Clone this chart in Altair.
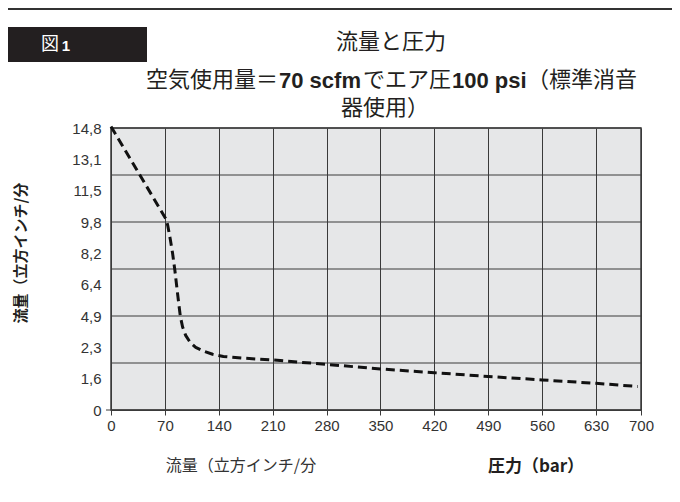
import altair as alt
import pandas as pd

# ---- data ----
pressure = [0, 36, 72, 74, 77, 80, 83, 87, 90, 93, 97, 103, 110, 120, 132, 146, 175, 208, 278, 350, 420, 490, 560, 630, 695]
# flow expressed in axis-slot units (axis labels are spaced evenly, not proportionally)
flow_slot = [9.05, 7.56, 6.07, 5.85, 5.45, 5.0, 4.45, 3.6, 3.0, 2.65, 2.38, 2.15, 2.0, 1.88, 1.78, 1.71, 1.65, 1.60, 1.46, 1.31, 1.19, 1.07, 0.96, 0.85, 0.75]
y_tick_labels = ["0", "1,6", "2,3", "4,9", "6,4", "8,2", "9,8", "11,5", "13,1", "14,8"]
x_ticks = [0, 70, 140, 210, 280, 350, 420, 490, 560, 630, 700]
h_grid = [0, 1.5, 3, 4.5, 6, 7.5, 9]

title_text = "流量と圧力"
subtitle_parts = ["空気使用量＝", "70 scfm", "でエア圧", "100 psi", "（標準消音"]
subtitle_line2 = "器使用）"
y_title = "流量（立方インチ/分"
x_left_text = "流量（立方インチ/分"
x_right_text = "圧力（bar）"
fig_label = ["図", "1"]

JP = "Noto Sans CJK JP"
LAT = "Liberation Sans"
INK = "#231f20"

W, H = 530, 282
x_scale = alt.Scale(domain=[0, 630, 700], range=[0, 485, 530], nice=False, zero=False)
y_scale = alt.Scale(domain=[0, 9], nice=False, zero=False)

df = pd.DataFrame({"p": pressure, "f": flow_slot})
label_expr = "[" + ",".join("'%s'" % s for s in y_tick_labels) + "][datum.value]"

y_axis = alt.Axis(values=list(range(10)), labelExpr=label_expr, grid=False,
                  domainColor="#3a3a3a", ticks=False, labelOverlap=False,
                  labelFont=LAT, labelFontSize=15, labelColor="#333333",
                  labelPadding=10, title=None, labelFlush=False, labelBound=False)

base_line = alt.Chart(df).mark_line(
    strokeDash=[9, 5], strokeWidth=3, color="#111111", interpolate="linear",
    strokeJoin="round", clip=False
).encode(
    x=alt.X("p:Q", scale=x_scale,
            axis=alt.Axis(values=x_ticks, grid=True, gridColor="#3a3a3a", gridWidth=1,
                          domainColor="#3a3a3a", tickColor="#3a3a3a", tickSize=5,
                          labelFont=LAT, labelFontSize=15, labelColor="#333333",
                          labelPadding=3, title=None, labelFlush=False, labelOverlap=False)),
    y=alt.Y("f:Q", scale=y_scale, axis=y_axis),
)

grid_rules = alt.Chart(pd.DataFrame({"g": h_grid})).mark_rule(
    color="#3a3a3a", strokeWidth=1
).encode(y=alt.Y("g:Q", scale=y_scale, axis=y_axis))


def txt(s, x, y, size, weight="normal", font=JP, align="center", angle=0, color=INK):
    return alt.Chart(pd.DataFrame({"t": [s]})).mark_text(
        font=font, fontSize=size, fontWeight=weight, align=align, baseline="middle",
        angle=angle, color=color
    ).encode(text="t:N", x=alt.value(x), y=alt.value(y))


top_line = alt.Chart(pd.DataFrame({"a": [0]})).mark_rule(color="#333333", strokeWidth=2).encode(
    x=alt.value(-103), x2=alt.value(561), y=alt.value(-119)
)
fig_box = alt.Chart(pd.DataFrame({"a": [0]})).mark_rect(color=INK).encode(
    x=alt.value(-104), x2=alt.value(36), y=alt.value(-101), y2=alt.value(-66)
)
zero_tick = alt.Chart(pd.DataFrame({"a": [0]})).mark_rule(color="#3a3a3a", strokeWidth=1).encode(
    x=alt.value(-5), x2=alt.value(0), y=alt.value(H)
)

layers = [
    grid_rules,
    top_line,
    fig_box,
    txt(fig_label[0], -61, -83, 18, color="white"),
    txt(fig_label[1], -45, -82, 15, weight="bold", font=LAT, color="white"),
    txt(title_text, 280, -86, 22),
    txt(subtitle_parts[0], 35, -48, 22, align="left"),
    txt(subtitle_parts[1], 168, -47, 22, weight="bold", font=LAT, align="left"),
    txt(subtitle_parts[2], 252, -48, 22, align="left"),
    txt(subtitle_parts[3], 341, -47, 22, weight="bold", font=LAT, align="left"),
    txt(subtitle_parts[4], 416, -48, 22, align="left"),
    txt(subtitle_line2, 274, -20, 22),
    txt(y_title, -90, 125, 15, weight="bold", angle=270),
    txt(x_left_text, 130, 338, 16, color="#333333"),
    txt(x_right_text, 425, 339, 17, weight="bold"),
    zero_tick,
    base_line,
]

chart = alt.layer(*layers).properties(
    width=W, height=H,
    autosize=alt.AutoSizeParams(type="none"),
    padding={"left": 103, "top": 120, "right": 31, "bottom": 80},
    background="white",
).configure_view(fill="#e6e7e8", stroke="#3a3a3a", strokeWidth=1.5)

chart.save("out.html", embed_options={"renderer": "svg", "actions": False})
